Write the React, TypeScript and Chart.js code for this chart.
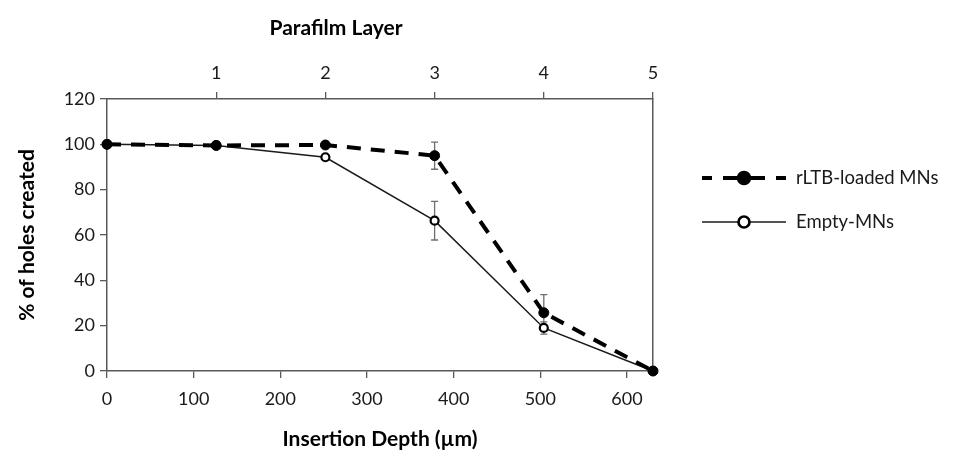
import React, { useEffect, useRef } from "react";
import { Chart, registerables } from "chart.js";

Chart.register(...registerables);

// ---- data ----
const depthsUm = [0, 126, 252, 378, 504, 630];
const loadedMNs = [100, 99.5, 99.7, 95, 25.7, 0];
const loadedErr = [0, 0, 0, 6, 8, 0];
const emptyMNs = [100, 99.5, 94.3, 66.3, 19, 0];
const emptyErr = [0, 0, 0, 8.5, 2.7, 0];
const depthTicks = [0, 100, 200, 300, 400, 500, 600];
const layerTickDepths = [126, 252, 378, 504, 630];
const layerTickLabels = ["1", "2", "3", "4", "5"];
const yTicks = [0, 20, 40, 60, 80, 100, 120];
const seriesNames = ["rLTB-loaded MNs", "Empty-MNs"];
const topTitle = "Parafilm Layer";

const FONT = "Lato, 'Open Sans', sans-serif";
const TEXT = "#1a1a1a";
const AXIS = "#595959";

const errorBarPlugin = {
  id: "errorBars",
  beforeDatasetsDraw(chart: any) {
    const { ctx } = chart;
    const xs = chart.scales.x;
    const ys = chart.scales.y;
    chart.data.datasets.forEach((ds: any) => {
      const errs: number[] = ds.errors;
      if (!errs) return;
      ds.data.forEach((pt: any, i: number) => {
        const e = errs[i];
        if (!e) return;
        const px = xs.getPixelForValue(pt.x);
        const top = ys.getPixelForValue(pt.y + e);
        const bot = ys.getPixelForValue(pt.y - e);
        ctx.save();
        ctx.strokeStyle = "#6e6e6e";
        ctx.lineWidth = 1.3;
        ctx.beginPath();
        ctx.moveTo(px, top);
        ctx.lineTo(px, bot);
        ctx.moveTo(px - 3.5, top);
        ctx.lineTo(px + 3.5, top);
        ctx.moveTo(px - 3.5, bot);
        ctx.lineTo(px + 3.5, bot);
        ctx.stroke();
        ctx.restore();
      });
    });
  },
};

const overlayPlugin = {
  id: "sideLegend",
  afterDraw(chart: any) {
    const { ctx } = chart;
    // top axis title
    ctx.save();
    ctx.fillStyle = "#000";
    ctx.font = `bold 21px ${FONT}`;
    ctx.textAlign = "center";
    ctx.textBaseline = "middle";
    ctx.fillText(topTitle, 336, 28);
    ctx.restore();

    const rows = [178, 222];
    const x0 = 702;
    const x1 = 786;
    const mx = 744;
    chart.data.datasets.forEach((ds: any, i: number) => {
      const yy = rows[i];
      ctx.save();
      ctx.strokeStyle = ds.borderColor;
      ctx.lineWidth = ds.borderWidth;
      ctx.setLineDash([]);
      ctx.beginPath();
      if (ds.borderDash && ds.borderDash.length) {
        const segs = [
          [x0, x0 + 10],
          [x0 + 21, mx - 4],
          [mx + 4, x1 - 21],
          [x1 - 10, x1],
        ];
        segs.forEach(([a, b]) => {
          ctx.moveTo(a, yy);
          ctx.lineTo(b, yy);
        });
      } else {
        ctx.moveTo(x0, yy);
        ctx.lineTo(x1, yy);
      }
      ctx.stroke();
      ctx.beginPath();
      ctx.arc(mx, yy, ds.pointRadius + 1.5, 0, Math.PI * 2);
      ctx.fillStyle = ds.pointBackgroundColor;
      ctx.fill();
      ctx.lineWidth = ds.pointBorderWidth + 0.5;
      ctx.strokeStyle = ds.pointBorderColor;
      ctx.stroke();
      ctx.fillStyle = TEXT;
      ctx.font = `18.5px ${FONT}`;
      ctx.textBaseline = "middle";
      ctx.textAlign = "left";
      ctx.fillText(ds.label, 796, yy);
      ctx.restore();
    });
  },
};

export default function App() {
  const ref = useRef<HTMLCanvasElement | null>(null);

  useEffect(() => {
    if (!ref.current) return;
    Chart.defaults.font.family = FONT;
    const chart = new Chart(ref.current, {
      type: "line",
      data: {
        datasets: [
          {
            label: seriesNames[0],
            data: depthsUm.map((d, i) => ({ x: d, y: loadedMNs[i] })),
            errors: loadedErr,
            borderColor: "#000000",
            borderWidth: 4,
            borderDash: [14, 10],
            pointRadius: 5,
            pointBackgroundColor: "#000000",
            pointBorderColor: "#000000",
            pointBorderWidth: 1,
            fill: false,
            tension: 0,
            clip: false,
          } as any,
          {
            label: seriesNames[1],
            data: depthsUm.map((d, i) => ({ x: d, y: emptyMNs[i] })),
            errors: emptyErr,
            borderColor: "#1a1a1a",
            borderWidth: 1.5,
            pointRadius: 4,
            pointBackgroundColor: "#ffffff",
            pointBorderColor: "#000000",
            pointBorderWidth: 2.2,
            fill: false,
            tension: 0,
            clip: false,
          } as any,
        ],
      },
      options: {
        responsive: false,
        animation: false,
        layout: { padding: 0 },
        plugins: {
          legend: { display: false },
          tooltip: { enabled: false },
        },
        scales: {
          x: {
            type: "linear",
            position: "bottom",
            min: 0,
            max: 630,
            afterBuildTicks: (s: any) => {
              s.ticks = depthTicks.map((v) => ({ value: v }));
            },
            afterFit: (s: any) => {
              s.height = 86;
            },
            grid: { drawOnChartArea: false, drawTicks: true, tickLength: 7, color: AXIS, lineWidth: 1.3 },
            border: { display: true, color: AXIS, width: 1.5 },
            ticks: { color: TEXT, font: { size: 18 }, padding: 10, maxRotation: 0, autoSkip: false },
            title: {
              display: true,
              text: "Insertion Depth (µm)",
              color: "#000",
              font: { size: 21, weight: "bold" },
              padding: { top: 0, bottom: 5 },
            },
          },
          x2: {
            type: "linear",
            position: "top",
            min: 0,
            max: 630,
            afterBuildTicks: (s: any) => {
              s.ticks = layerTickDepths.map((v) => ({ value: v }));
            },
            afterFit: (s: any) => {
              s.height = 99;
            },
            grid: { drawOnChartArea: false, drawTicks: true, tickLength: 7, color: AXIS, lineWidth: 1.3 },
            border: { display: true, color: AXIS, width: 1.5 },
            ticks: {
              color: TEXT,
              font: { size: 18 },
              padding: 8,
              maxRotation: 0,
              autoSkip: false,
              callback: (_v: any, i: number) => layerTickLabels[i],
            },
          },
          y: {
            type: "linear",
            position: "left",
            min: 0,
            max: 120,
            afterBuildTicks: (s: any) => {
              s.ticks = yTicks.map((v) => ({ value: v }));
            },
            afterFit: (s: any) => {
              s.width = 107;
            },
            grid: { drawOnChartArea: false, drawTicks: true, tickLength: 7, color: AXIS, lineWidth: 1.3 },
            border: { display: true, color: AXIS, width: 1.5 },
            ticks: { color: TEXT, font: { size: 18 }, padding: 5 },
            title: {
              display: true,
              text: "% of holes created",
              color: "#000",
              font: { size: 21, weight: "bold" },
              padding: { top: 15, bottom: 0 },
            },
          },
          y2: {
            type: "linear",
            position: "right",
            min: 0,
            max: 120,
            afterFit: (s: any) => {
              s.width = 326;
            },
            grid: { display: false, drawOnChartArea: false, drawTicks: false },
            border: { display: true, color: AXIS, width: 1.5 },
            ticks: { display: false },
          },
        },
      } as any,
      plugins: [errorBarPlugin, overlayPlugin],
    });
    return () => chart.destroy();
  }, []);

  return (
    <div style={{ position: "absolute", left: 0, top: 0, width: 979, height: 457, background: "#fff" }}>
      <canvas ref={ref} width={979} height={457} style={{ display: "block" }} />
    </div>
  );
}
